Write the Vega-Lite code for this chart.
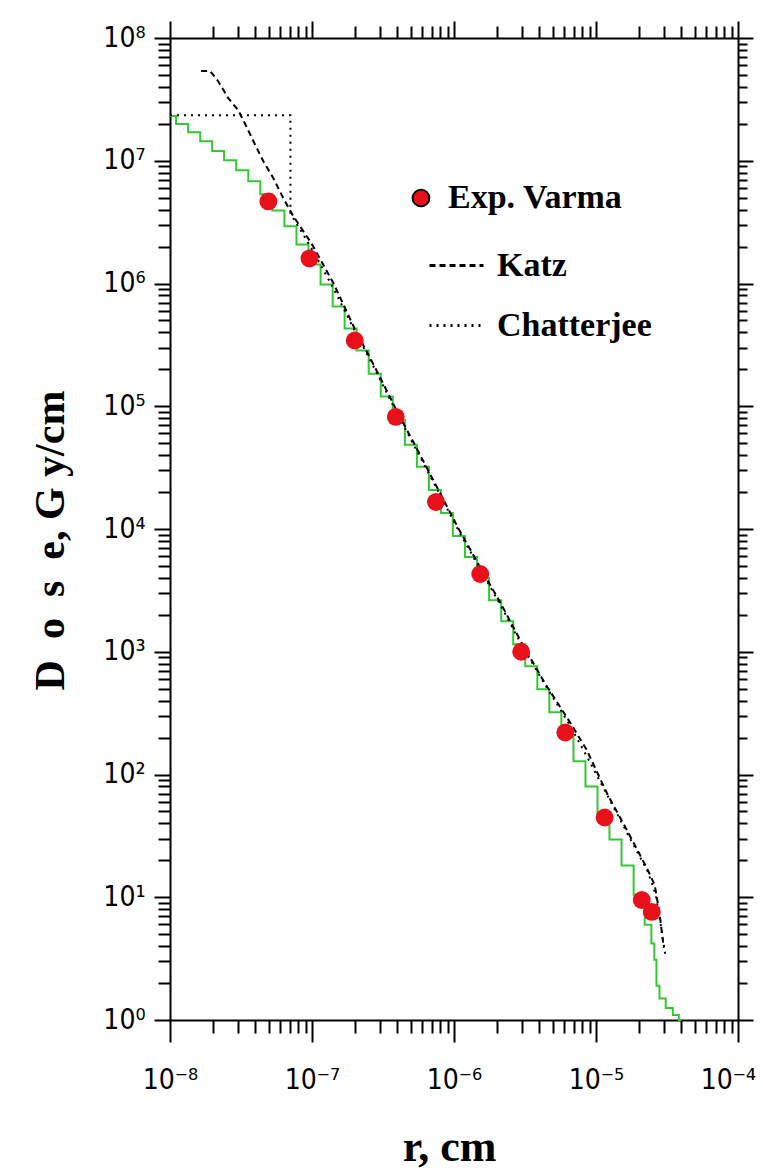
{
  "$schema": "https://vega.github.io/schema/vega-lite/v6.json",
  "width": 568,
  "height": 982,
  "autosize": "none",
  "padding": {"left": 170, "top": 38, "right": 25, "bottom": 154},
  "background": "white",
  "config": {
    "view": {"stroke": null},
    "axis": {
      "grid": false,
      "domainColor": "black",
      "tickColor": "black",
      "domainWidth": 2,
      "tickWidth": 2,
      "labelFont": "Liberation Sans Narrow, DejaVu Sans Condensed, Liberation Sans, sans-serif",
      "labelColor": "black",
      "labelFontSize": 28,
      "labelFlush": false,
      "labelOverlap": false,
      "titleColor": "black"
    },
    "legend": {
      "labelFont": "Liberation Serif",
      "labelFontWeight": "bold",
      "labelFontSize": 34,
      "labelColor": "black",
      "labelLimit": 400,
      "padding": 0
    }
  },
  "datasets": {
    "exp": [
      {"r": 4.93e-8, "dose": 4.67e6, "source": "Exp. Varma"},
      {"r": 9.6e-8, "dose": 1.6e6, "source": "Exp. Varma"},
      {"r": 2.0e-7, "dose": 3.43e5, "source": "Exp. Varma"},
      {"r": 3.89e-7, "dose": 8.2e4, "source": "Exp. Varma"},
      {"r": 7.46e-7, "dose": 1.66e4, "source": "Exp. Varma"},
      {"r": 1.53e-6, "dose": 4300, "source": "Exp. Varma"},
      {"r": 2.97e-6, "dose": 1000, "source": "Exp. Varma"},
      {"r": 6.08e-6, "dose": 220, "source": "Exp. Varma"},
      {"r": 1.15e-5, "dose": 44.6, "source": "Exp. Varma"},
      {"r": 2.1e-5, "dose": 9.5, "source": "Exp. Varma"},
      {"r": 2.47e-5, "dose": 7.6, "source": "Exp. Varma"}
    ],
    "sim": [
      {"r": 1.0e-8, "dose": 2.31e7},
      {"r": 1.216e-8, "dose": 1.99e7},
      {"r": 1.48e-8, "dose": 1.71e7},
      {"r": 1.80e-8, "dose": 1.44e7},
      {"r": 2.18e-8, "dose": 1.20e7},
      {"r": 2.65e-8, "dose": 1.009e7},
      {"r": 3.23e-8, "dose": 8.36e6},
      {"r": 3.92e-8, "dose": 6.80e6},
      {"r": 4.77e-8, "dose": 5.33e6},
      {"r": 5.80e-8, "dose": 3.94e6},
      {"r": 7.05e-8, "dose": 2.92e6},
      {"r": 8.57e-8, "dose": 2.08e6},
      {"r": 1.04e-7, "dose": 1.43e6},
      {"r": 1.27e-7, "dose": 9.81e5},
      {"r": 1.54e-7, "dose": 6.49e5},
      {"r": 1.87e-7, "dose": 4.29e5},
      {"r": 2.27e-7, "dose": 2.84e5},
      {"r": 2.77e-7, "dose": 1.84e5},
      {"r": 3.36e-7, "dose": 1.20e5},
      {"r": 4.09e-7, "dose": 7.76e4},
      {"r": 4.97e-7, "dose": 4.85e4},
      {"r": 6.04e-7, "dose": 3.21e4},
      {"r": 7.34e-7, "dose": 2.08e4},
      {"r": 8.92e-7, "dose": 1.35e4},
      {"r": 1.08e-6, "dose": 8770},
      {"r": 1.32e-6, "dose": 5910},
      {"r": 1.60e-6, "dose": 3980},
      {"r": 1.95e-6, "dose": 2630},
      {"r": 2.37e-6, "dose": 1770},
      {"r": 2.88e-6, "dose": 1150},
      {"r": 3.50e-6, "dose": 761},
      {"r": 4.26e-6, "dose": 494},
      {"r": 5.17e-6, "dose": 321},
      {"r": 6.29e-6, "dose": 204},
      {"r": 7.65e-6, "dose": 128},
      {"r": 9.29e-6, "dose": 79.8},
      {"r": 1.13e-5, "dose": 48.0},
      {"r": 1.37e-5, "dose": 29.5},
      {"r": 1.67e-5, "dose": 18.1},
      {"r": 2.03e-5, "dose": 10.5},
      {"r": 2.39e-5, "dose": 5.96},
      {"r": 2.52e-5, "dose": 4.2},
      {"r": 2.63e-5, "dose": 3.09},
      {"r": 2.70e-5, "dose": 1.9},
      {"r": 2.90e-5, "dose": 1.5},
      {"r": 3.31e-5, "dose": 1.25},
      {"r": 3.65e-5, "dose": 1.1},
      {"r": 4.02e-5, "dose": 1.0}
    ],
    "katz": [
      {"model": "Katz", "r": 1.656e-8, "dose": 5.38e7},
      {"model": "Katz", "r": 1.918e-8, "dose": 5.38e7},
      {"model": "Katz", "r": 2.18e-8, "dose": 4.46e7},
      {"model": "Katz", "r": 2.57e-8, "dose": 3.24e7},
      {"model": "Katz", "r": 3.024e-8, "dose": 2.58e7},
      {"model": "Katz", "r": 3.444e-8, "dose": 1.91e7},
      {"model": "Katz", "r": 3.988e-8, "dose": 1.34e7},
      {"model": "Katz", "r": 4.543e-8, "dose": 9.91e6},
      {"model": "Katz", "r": 5.346e-8, "dose": 7.20e6},
      {"model": "Katz", "r": 6.29e-8, "dose": 4.94e6},
      {"model": "Katz", "r": 7.40e-8, "dose": 3.52e6},
      {"model": "Katz", "r": 9.92e-8, "dose": 2.12e6},
      {"model": "Katz", "r": 1.419e-7, "dose": 1.0e6},
      {"model": "Katz", "r": 1.997e-7, "dose": 4.29e5},
      {"model": "Katz", "r": 2.81e-7, "dose": 2.02e5},
      {"model": "Katz", "r": 3.89e-7, "dose": 9.54e4},
      {"model": "Katz", "r": 5.476e-7, "dose": 4.50e4},
      {"model": "Katz", "r": 7.834e-7, "dose": 2.04e4},
      {"model": "Katz", "r": 1.08e-6, "dose": 1.0e4},
      {"model": "Katz", "r": 1.526e-6, "dose": 4890},
      {"model": "Katz", "r": 2.149e-6, "dose": 2440},
      {"model": "Katz", "r": 2.975e-6, "dose": 1200},
      {"model": "Katz", "r": 4.325e-6, "dose": 564},
      {"model": "Katz", "r": 6.496e-6, "dose": 271},
      {"model": "Katz", "r": 8.566e-6, "dose": 160},
      {"model": "Katz", "r": 1.206e-5, "dose": 68.7},
      {"model": "Katz", "r": 1.643e-5, "dose": 35.6},
      {"model": "Katz", "r": 2.275e-5, "dose": 17.4},
      {"model": "Katz", "r": 2.591e-5, "dose": 12.6},
      {"model": "Katz", "r": 2.811e-5, "dose": 7.2},
      {"model": "Katz", "r": 3.0e-5, "dose": 3.87}
    ],
    "chat": [
      {"model": "Chatterjee", "i": 1, "r": 1.0e-8, "dose": 2.35e7},
      {"model": "Chatterjee", "i": 2, "r": 7.05e-8, "dose": 2.35e7},
      {"model": "Chatterjee", "i": 3, "r": 7.05e-8, "dose": 3.73e6},
      {"model": "Chatterjee", "i": 4, "r": 9.92e-8, "dose": 1.93e6},
      {"model": "Chatterjee", "i": 5, "r": 1.419e-7, "dose": 9.10e5},
      {"model": "Chatterjee", "i": 6, "r": 1.997e-7, "dose": 4.13e5},
      {"model": "Chatterjee", "i": 7, "r": 2.81e-7, "dose": 1.95e5},
      {"model": "Chatterjee", "i": 8, "r": 3.89e-7, "dose": 9.19e4},
      {"model": "Chatterjee", "i": 9, "r": 5.476e-7, "dose": 4.33e4},
      {"model": "Chatterjee", "i": 10, "r": 7.834e-7, "dose": 1.97e4},
      {"model": "Chatterjee", "i": 11, "r": 1.08e-6, "dose": 9630},
      {"model": "Chatterjee", "i": 12, "r": 1.526e-6, "dose": 4720},
      {"model": "Chatterjee", "i": 13, "r": 2.149e-6, "dose": 2350},
      {"model": "Chatterjee", "i": 14, "r": 2.975e-6, "dose": 1150},
      {"model": "Chatterjee", "i": 15, "r": 4.325e-6, "dose": 553},
      {"model": "Chatterjee", "i": 16, "r": 6.496e-6, "dose": 256},
      {"model": "Chatterjee", "i": 17, "r": 8.995e-6, "dose": 128},
      {"model": "Chatterjee", "i": 18, "r": 1.246e-5, "dose": 62.5},
      {"model": "Chatterjee", "i": 19, "r": 1.725e-5, "dose": 30.6},
      {"model": "Chatterjee", "i": 20, "r": 2.312e-5, "dose": 16.2},
      {"model": "Chatterjee", "i": 21, "r": 2.634e-5, "dose": 10.5},
      {"model": "Chatterjee", "i": 22, "r": 2.857e-5, "dose": 5.96},
      {"model": "Chatterjee", "i": 23, "r": 3.10e-5, "dose": 3.21}
    ]
  },
  "layer": [
    {
      "data": {"name": "sim"},
      "mark": {"type": "line", "color": "#33c833", "strokeWidth": 2, "interpolate": "step"},
      "encoding": {
        "x": {
          "field": "r", "type": "quantitative",
          "scale": {"type": "log", "domain": [1e-8, 1e-4], "nice": false},
          "axis": {
            "orient": "bottom",
            "values": [1e-8, 1e-7, 1e-6, 1e-5, 1e-4],
            "tickSize": 22,
            "labelExpr": "'10⁻' + ['⁰','¹','²','³','⁴','⁵','⁶','⁷','⁸'][-round(log(datum.value)/LN10)]",
            "labelBaseline": "alphabetic",
            "labelPadding": 46,
            "labelOffset": {"condition": {"test": "datum.value > 5e-5", "value": -10}, "value": 0},
            "title": "r, cm",
            "titleFont": "Liberation Serif",
            "titleFontWeight": "bold",
            "titleFontSize": 44,
            "titleX": 279,
            "titleY": 140,
            "titleBaseline": "alphabetic"
          }
        },
        "y": {
          "field": "dose", "type": "quantitative",
          "scale": {"type": "log", "domain": [1, 1e8], "nice": false},
          "axis": {
            "orient": "left",
            "values": [1, 10, 100, 1000, 10000, 100000, 1000000, 10000000, 100000000],
            "tickSize": 16,
            "labelExpr": "'10' + ['⁰','¹','²','³','⁴','⁵','⁶','⁷','⁸'][round(log(datum.value)/LN10)]",
            "labelBaseline": "middle",
            "labelAlign": "right",
            "labelPadding": 9,
            "title": "D\u2002o\u2002s\u2002e, G y/cm",
            "titleFont": "Liberation Serif",
            "titleFontWeight": "bold",
            "titleFontSize": 42,
            "titleX": -107,
            "titleY": 502,
            "titleAngle": -90,
            "titleAlign": "center",
            "titleBaseline": "alphabetic"
          }
        }
      }
    },
    {
      "data": {"name": "katz"},
      "mark": {"type": "line", "color": "black", "strokeWidth": 2},
      "encoding": {
        "x": {
          "field": "r", "type": "quantitative",
          "scale": {"type": "log", "domain": [1e-8, 1e-4], "nice": false},
          "axis": {
            "orient": "bottom",
            "values": [2e-8, 3e-8, 4e-8, 5e-8, 6e-8, 7e-8, 8e-8, 9e-8, 2e-7, 3e-7, 4e-7, 5e-7, 6e-7, 7e-7, 8e-7, 9e-7, 2e-6, 3e-6, 4e-6, 5e-6, 6e-6, 7e-6, 8e-6, 9e-6, 2e-5, 3e-5, 4e-5, 5e-5, 6e-5, 7e-5, 8e-5, 9e-5],
            "tickSize": 13, "labels": false, "domain": false, "title": null
          }
        },
        "y": {
          "field": "dose", "type": "quantitative",
          "scale": {"type": "log", "domain": [1, 1e8], "nice": false},
          "axis": {
            "orient": "left",
            "values": [2, 3, 4, 5, 6, 7, 8, 9, 20, 30, 40, 50, 60, 70, 80, 90, 200, 300, 400, 500, 600, 700, 800, 900, 2000, 3000, 4000, 5000, 6000, 7000, 8000, 9000, 20000, 30000, 40000, 50000, 60000, 70000, 80000, 90000, 200000, 300000, 400000, 500000, 600000, 700000, 800000, 900000, 2000000, 3000000, 4000000, 5000000, 6000000, 7000000, 8000000, 9000000, 20000000, 30000000, 40000000, 50000000, 60000000, 70000000, 80000000, 90000000],
            "tickSize": 12, "labels": false, "domain": false, "title": null
          }
        },
        "strokeDash": {
          "field": "model", "type": "nominal",
          "scale": {"domain": ["Katz", "Chatterjee"], "range": [[6, 4], [2, 5]]},
          "legend": {
            "title": null,
            "orient": "none",
            "legendX": 258,
            "legendY": 199,
            "symbolType": "stroke",
            "symbolSize": 2916,
            "symbolStrokeWidth": 3,
            "symbolStrokeColor": "black",
            "labelOffset": 12,
            "rowPadding": 14
          }
        }
      }
    },
    {
      "data": {"name": "chat"},
      "mark": {"type": "line", "color": "black", "strokeWidth": 2},
      "encoding": {
        "x": {
          "field": "r", "type": "quantitative",
          "scale": {"type": "log", "domain": [1e-8, 1e-4], "nice": false},
          "axis": {
            "orient": "top",
            "values": [1e-8, 1e-7, 1e-6, 1e-5, 1e-4],
            "tickSize": 17, "labels": false, "title": null
          }
        },
        "y": {
          "field": "dose", "type": "quantitative",
          "scale": {"type": "log", "domain": [1, 1e8], "nice": false},
          "axis": {
            "orient": "right",
            "values": [1, 10, 100, 1000, 10000, 100000, 1000000, 10000000, 100000000],
            "tickSize": 15, "labels": false, "title": null
          }
        },
        "order": {"field": "i", "type": "quantitative"},
        "strokeDash": {
          "field": "model", "type": "nominal",
          "scale": {"domain": ["Katz", "Chatterjee"], "range": [[6, 4], [2, 5]]},
          "legend": {
            "title": null,
            "orient": "none",
            "legendX": 258,
            "legendY": 199,
            "symbolType": "stroke",
            "symbolSize": 2916,
            "symbolStrokeWidth": 3,
            "symbolStrokeColor": "black",
            "labelOffset": 12,
            "rowPadding": 14
          }
        }
      }
    },
    {
      "data": {"name": "exp"},
      "mark": {"type": "circle", "size": 320, "opacity": 1},
      "encoding": {
        "x": {
          "field": "r", "type": "quantitative",
          "scale": {"type": "log", "domain": [1e-8, 1e-4], "nice": false},
          "axis": {
            "orient": "top",
            "values": [2e-8, 3e-8, 4e-8, 5e-8, 6e-8, 7e-8, 8e-8, 9e-8, 2e-7, 3e-7, 4e-7, 5e-7, 6e-7, 7e-7, 8e-7, 9e-7, 2e-6, 3e-6, 4e-6, 5e-6, 6e-6, 7e-6, 8e-6, 9e-6, 2e-5, 3e-5, 4e-5, 5e-5, 6e-5, 7e-5, 8e-5, 9e-5],
            "tickSize": 12, "labels": false, "domain": false, "title": null
          }
        },
        "y": {
          "field": "dose", "type": "quantitative",
          "scale": {"type": "log", "domain": [1, 1e8], "nice": false},
          "axis": {
            "orient": "right",
            "values": [2, 3, 4, 5, 6, 7, 8, 9, 20, 30, 40, 50, 60, 70, 80, 90, 200, 300, 400, 500, 600, 700, 800, 900, 2000, 3000, 4000, 5000, 6000, 7000, 8000, 9000, 20000, 30000, 40000, 50000, 60000, 70000, 80000, 90000, 200000, 300000, 400000, 500000, 600000, 700000, 800000, 900000, 2000000, 3000000, 4000000, 5000000, 6000000, 7000000, 8000000, 9000000, 20000000, 30000000, 40000000, 50000000, 60000000, 70000000, 80000000, 90000000],
            "tickSize": 9, "labels": false, "domain": false, "title": null
          }
        },
        "fill": {
          "field": "source", "type": "nominal",
          "scale": {"range": ["#e8101a"]},
          "legend": {
            "title": null,
            "orient": "none",
            "legendX": 234,
            "legendY": 143,
            "symbolType": "circle",
            "symbolSize": 280,
            "symbolStrokeColor": "black",
            "symbolStrokeWidth": 2,
            "symbolOpacity": 1,
            "labelOffset": 10
          }
        }
      }
    }
  ],
  "resolve": {"axis": {"x": "independent", "y": "independent"}}
}
